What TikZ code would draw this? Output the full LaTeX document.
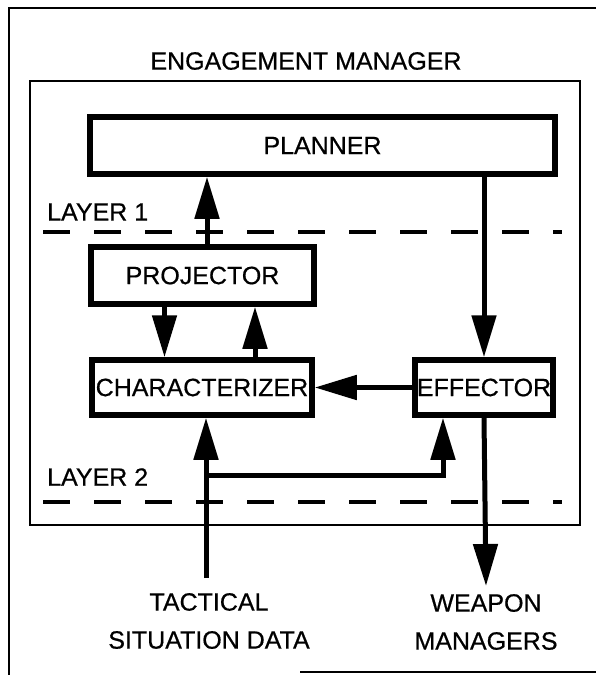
\documentclass[tikz,border=0pt]{standalone}
\usepackage{fontspec}
\setmainfont{Liberation Sans}[FakeBold=0.6]
\usetikzlibrary{arrows.meta}

\begin{document}
\begin{tikzpicture}[x=1pt,y=-1pt,
  lbl/.style={font=\fontsize{25}{38}\selectfont, inner sep=0pt},
  blk/.style={draw, line width=5.5pt, lbl, minimum height=56pt},
  flow/.style={line width=5pt, -{Triangle[width=24pt,length=42pt]}},
  layerline/.style={line width=3.5pt, dash pattern=on 27pt off 24pt}]
 \useasboundingbox (0,0) rectangle (596,675);
 % frames
 \draw[line width=2pt] (9,675) -- (9,8) -- (596,8);
 \draw[line width=1.5pt] (300,672) -- (596,672);
 \draw[line width=2.5pt] (30,81) rectangle (580,525);
 \node[lbl] (title) at (306,61) {ENGAGEMENT MANAGER};
 % layers
 \draw[layerline] (43,232) -- (562,232);
 \draw[layerline] (43,502) -- (562,502);
 \node[lbl, anchor=west] (layer1) at (47,212) {LAYER 1};
 \node[lbl, anchor=west] (layer2) at (47,477) {LAYER 2};
 % blocks
 \node[blk, minimum width=465pt, minimum height=57pt] (planner) at (322.5,145.5) {PLANNER};
 \node[blk, minimum width=223pt, minimum height=57pt] (projector) at (202.5,275.5) {PROJECTOR};
 \node[blk, minimum width=220pt, minimum height=55pt] (charact) at (202,387.5) {CHARACTERIZER};
 \node[blk, minimum width=138pt, minimum height=55pt] (effector) at (484,387.5) {EFFECTOR};
 \node[lbl, align=center] (tactical) at (209,621) {TACTICAL\\SITUATION DATA};
 \node[lbl, align=center] (weapons) at (486,622) {WEAPON\\MANAGERS};
 \coordinate (tacin) at (206,578);
 \coordinate (split) at (206,475);
 \coordinate (wpnout) at (486,586);
 % flows
 \draw[flow] ([xshift=4.5pt]projector.north) -- ([xshift=4.5pt]projector.north |- planner.south);
 \draw[flow] (effector.north |- planner.south) -- (effector.north);
 \draw[flow] ([xshift=-38pt]projector.south) -- ([xshift=-38pt]projector.south |- charact.north);
 \draw[flow] ([xshift=53pt]charact.north) -- ([xshift=53pt]charact.north |- projector.south);
 \draw[flow] (effector.west) -- (charact.east);
 \draw[flow] (tacin) -- (tacin |- charact.south);
 \draw[flow] (split) -| ([xshift=-41pt]effector.south);
 \draw[flow] (effector.south) -- (wpnout);
\end{tikzpicture}
\end{document}
